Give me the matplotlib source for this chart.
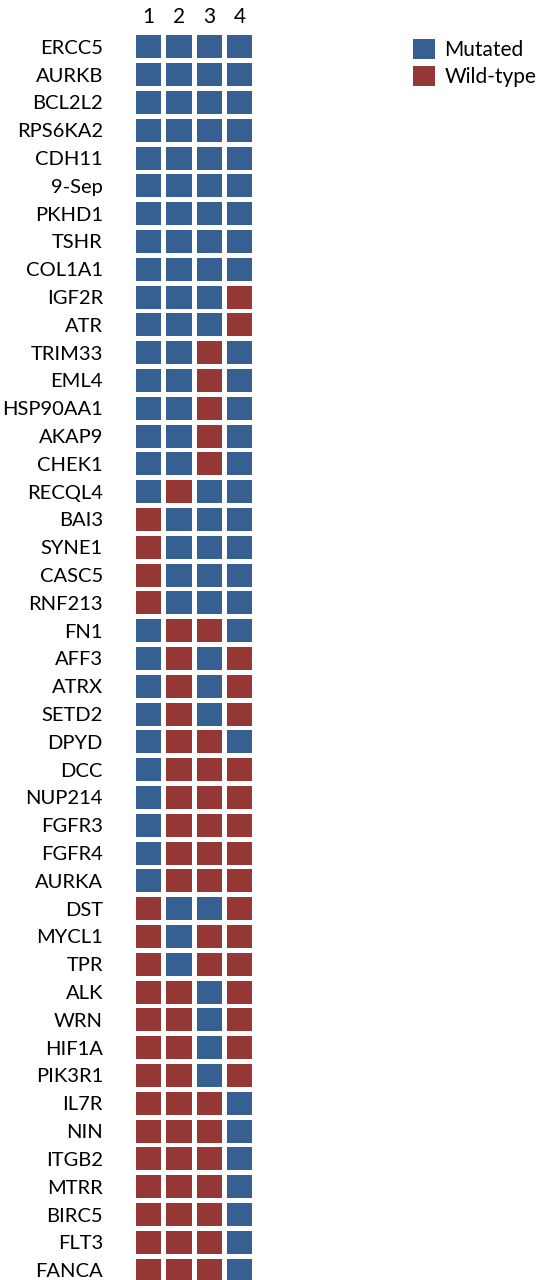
import matplotlib
matplotlib.use("Agg")
import matplotlib.pyplot as plt
from matplotlib.patches import Rectangle, Patch

plt.rcParams['font.family'] = ['Lato', 'DejaVu Sans']

genes = ["ERCC5", "AURKB", "BCL2L2", "RPS6KA2", "CDH11", "9-Sep", "PKHD1", "TSHR",
         "COL1A1", "IGF2R", "ATR", "TRIM33", "EML4", "HSP90AA1", "AKAP9", "CHEK1",
         "RECQL4", "BAI3", "SYNE1", "CASC5", "RNF213", "FN1", "AFF3", "ATRX", "SETD2",
         "DPYD", "DCC", "NUP214", "FGFR3", "FGFR4", "AURKA", "DST", "MYCL1", "TPR",
         "ALK", "WRN", "HIF1A", "PIK3R1", "IL7R", "NIN", "ITGB2", "MTRR", "BIRC5",
         "FLT3", "FANCA"]
samples = ["1", "2", "3", "4"]

# 1 = mutated, 0 = wild-type; one string per gene, one char per sample
status = ["1111", "1111", "1111", "1111", "1111", "1111", "1111", "1111",
          "1111", "1110", "1110", "1101", "1101", "1101", "1101", "1101",
          "1011", "0111", "0111", "0111", "0111", "1001", "1010", "1010", "1010",
          "1001", "1000", "1000", "1000", "1000", "1000", "0110", "0100", "0100",
          "0010", "0010", "0010", "0010", "0001", "0001", "0001", "0001", "0001",
          "0001", "0001"]

MUT = "#366092"
WT = "#953735"

W, H = 542, 1280
fig = plt.figure(figsize=(W / 100, H / 100), dpi=100)

pitch_x, pitch_y = 30.3, 27.8
left, top = 133.5, 33.0
ax = fig.add_axes([left / W, 1 - (top + pitch_y * len(genes)) / H,
                   pitch_x * len(samples) / W, pitch_y * len(genes) / H])

cw, ch = 0.83, 0.83
for i, row in enumerate(status):
    for j, s in enumerate(row):
        ax.add_patch(Rectangle((j - cw / 2, i - ch / 2), cw, ch,
                               facecolor=MUT if s == "1" else WT, edgecolor="none"))

ax.set_xlim(-0.5, len(samples) - 0.5)
ax.set_ylim(len(genes) - 0.5, -0.5)
ax.set_yticks(range(len(genes)))
ax.set_yticklabels(genes, fontsize=14.5)
ax.set_xticks(range(len(samples)))
ax.set_xticklabels(samples, fontsize=15)
ax.xaxis.tick_top()
ax.tick_params(axis="y", length=0, pad=22)
ax.tick_params(axis="x", length=0, pad=4)
for sp in ax.spines.values():
    sp.set_visible(False)

handles = [Patch(facecolor=MUT, label="Mutated"), Patch(facecolor=WT, label="Wild-type")]
fig.legend(handles=handles, loc="upper left", bbox_to_anchor=(405 / W, 1 - 31 / H),
           frameon=False, fontsize=15, handlelength=1.05, handleheight=1.05,
           handletextpad=0.45, labelspacing=0.3, borderaxespad=0)

fig.savefig("out.png", dpi=100)
